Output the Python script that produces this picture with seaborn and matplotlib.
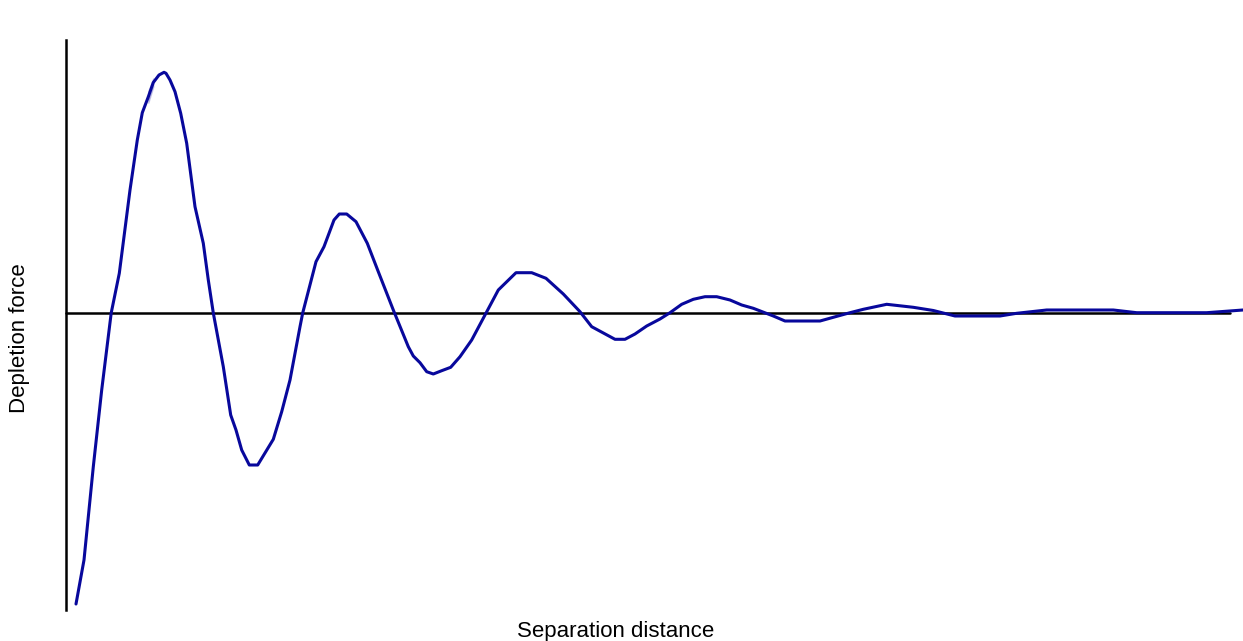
import matplotlib
matplotlib.use("Agg")
import matplotlib.pyplot as plt
import seaborn as sns
import pandas as pd

# Separation distance (arbitrary units) and depletion force (arbitrary units)
separation = [10, 18, 27.3, 35.7, 45.2, 53.3, 64, 71.3, 76.3, 82.3, 82.3, 87.3, 87.3, 93, 98, 100,
              104, 109, 114.7, 120.7, 129, 137.3, 142.3, 147.3, 157.3, 164.7, 170, 175.7, 183.3,
              191.7, 207.3, 215.7, 224, 234, 236.7, 250, 258, 268, 273.3, 280.7, 290, 301.3, 312.3,
              327.3, 342.3, 347.3, 354, 360.7, 367.3, 375.7, 384.7, 394, 405.7, 419, 432.3, 450,
              465.7, 480, 497.3, 514, 525.7, 549, 559, 569, 580.7, 594, 604, 615.7, 627.3, 639,
              650.7, 664, 675.7, 687.3, 707.3, 719, 754, 767.3, 784, 797.3, 820.7, 847.3, 867.3,
              889, 934, 950.7, 980.7, 1047.3, 1070.7, 1140.7, 1177]
force = [-291, -247, -153.7, -77, 0, 39.7, 123, 173, 200.3, 210.3, 222, 226.3, 234.7, 238, 240.7,
         239.7, 233, 221.3, 199.7, 169.7, 106.3, 69.7, 33, 0, -53.7, -102, -117, -137, -152, -152,
         -126.3, -98.7, -67, -13.7, 0, 51.3, 66.3, 93, 99, 99, 91.3, 69.7, 41.3, 3, -33.7, -43,
         -49.7, -58.7, -61, -57.7, -54.3, -43.7, -27, -2, 23, 40.3, 40.3, 34.7, 19, 1.3, -13.7,
         -26.3, -26.3, -21, -13, -6, 0.3, 8.7, 13.7, 16.3, 16.3, 13, 8, 4.7, -3, -8, -8, -4.3,
         0.3, 3.7, 8.7, 5.7, 2.5, -3, -3, -0.3, 3, 3, 0.3, 0.3, 3]

df = pd.DataFrame({"Separation distance": separation, "Depletion force": force})

sns.set_theme(style="white")
plt.rcParams["font.family"] = ["Liberation Sans", "DejaVu Sans"]

W, H = 1243, 641
fig = plt.figure(figsize=(W / 100, H / 100), dpi=100)
ax = fig.add_axes([66 / W, (H - 610) / H, (1230 - 66) / W, (610 - 40) / H])

ax.axhline(0, color="black", linewidth=1.8, zorder=1)
sns.lineplot(data=df, x="Separation distance", y="Depletion force", sort=False,
             color="#08089C", linewidth=2.2, ax=ax, zorder=3)
for line in ax.lines:
    line.set_clip_on(False)

ax.set_xlim(0, 1164)
ax.set_ylim(-297, 273)
ax.set_xticks([])
ax.set_yticks([])
for s in ["top", "right", "bottom"]:
    ax.spines[s].set_visible(False)
ax.spines["left"].set_color("black")
ax.spines["left"].set_linewidth(1.8)

ax.set_xlabel("")
ax.set_ylabel("")
fig.text(616 / W, 1 - 631 / H, "Separation distance", ha="center", va="center",
         fontsize=16, color="black")
fig.text(20 / W, 1 - 338 / H, "Depletion force", ha="center", va="center",
         rotation=90, fontsize=16, color="black")

fig.savefig("out.png", dpi=100, facecolor="white")
